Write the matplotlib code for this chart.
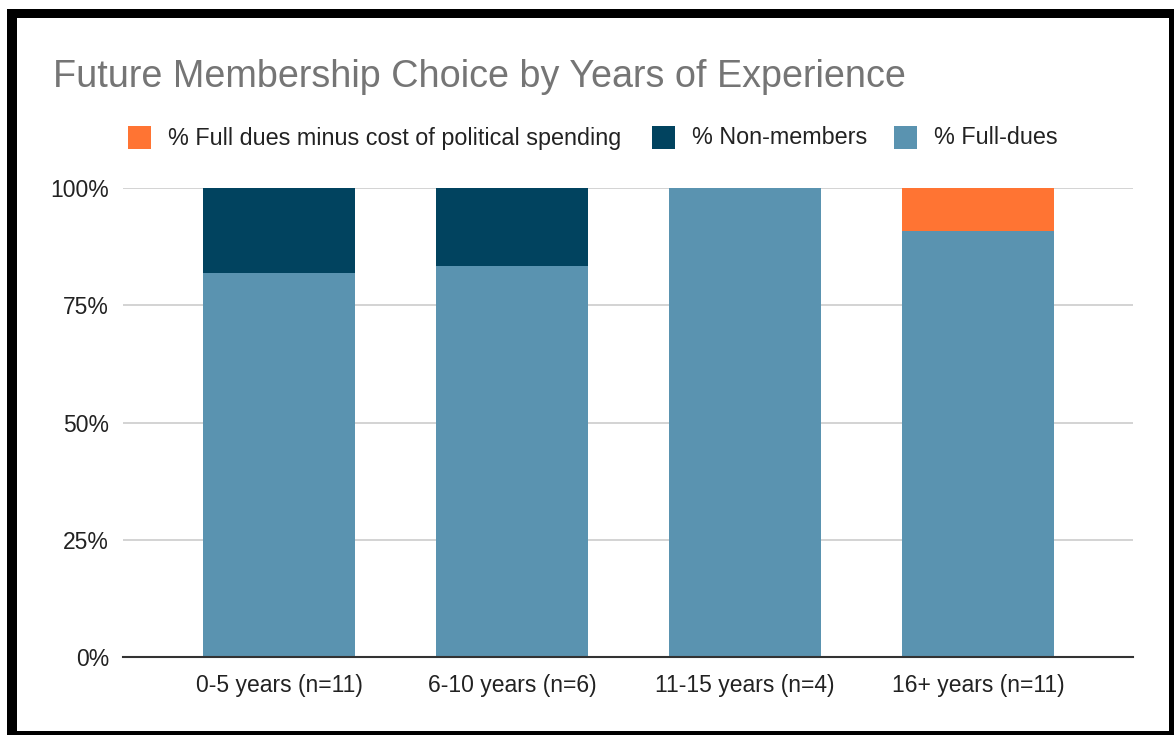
import matplotlib.pyplot as plt
from matplotlib.patches import Rectangle
from matplotlib.ticker import PercentFormatter

plt.rcParams['font.family'] = ['Liberation Sans', 'DejaVu Sans']

groups = ["0-5 years (n=11)", "6-10 years (n=6)", "11-15 years (n=4)", "16+ years (n=11)"]
full_dues = [9 / 11, 5 / 6, 4 / 4, 10 / 11]
non_members = [2 / 11, 1 / 6, 0, 0]
minus_political = [0, 0, 0, 1 / 11]

series = [
    ("% Full dues minus cost of political spending", "#FF7433"),
    ("% Non-members", "#01435F"),
    ("% Full-dues", "#5A93B0"),
]

W, H = 1174, 735
fig = plt.figure(figsize=(W / 100, H / 100), dpi=100)


def px_rect(x0, y0, x1, y1, color):
    # rectangle given in pixels measured from the top-left corner
    fig.patches.append(Rectangle((x0 / W, (H - y1) / H), (x1 - x0) / W, (y1 - y0) / H,
                                 transform=fig.transFigure, color=color, lw=0, zorder=10))


# thick black frame around the card; right and bottom sides run off the image
px_rect(7, 9, 17, H, "black")
px_rect(7, 9, W, 18, "black")
px_rect(1169, 9, W, H, "black")
px_rect(7, 731, W, H, "black")

ax = fig.add_axes([123 / W, (H - 657) / H, (1133 - 123) / W, (657 - 188) / H])
x = list(range(len(groups)))
width = 0.652
ax.bar(x, full_dues, width, color=series[2][1], zorder=2)
ax.bar(x, non_members, width, bottom=full_dues, color=series[1][1], zorder=2)
tops = [a + b for a, b in zip(full_dues, non_members)]
ax.bar(x, minus_political, width, bottom=tops, color=series[0][1], zorder=2)

ax.set_xlim(-0.67, 3.665)
ax.set_ylim(0, 1)
ax.set_yticks([0, 0.25, 0.5, 0.75, 1.0])
ax.yaxis.set_major_formatter(PercentFormatter(1.0, decimals=0))
ax.set_xticks(x)
ax.set_xticklabels(groups)
ax.grid(axis="y", color="#CCCCCC", linewidth=1.2, zorder=0)
for s in ["top", "right", "left"]:
    ax.spines[s].set_visible(False)
ax.spines["bottom"].set_color("#333333")
ax.spines["bottom"].set_linewidth(1.5)
ax.spines["bottom"].set_zorder(3)
ax.tick_params(length=0, labelsize=16.5, labelcolor="#222222")
ax.tick_params(axis="x", pad=12)
ax.tick_params(axis="y", pad=10)

fig.text(53 / W, (H - 77) / H, "Future Membership Choice by Years of Experience",
         fontsize=27.2, color="#757575", va="center", ha="left")

# legend row
for (label, color), sx in zip(series, [128, 652, 894]):
    px_rect(sx, 126, sx + 23, 149, color)
    fig.text((sx + 40) / W, (H - 138) / H, label, fontsize=16.8, color="#222222",
             va="center", ha="left")

fig.savefig("out.png", dpi=100)
